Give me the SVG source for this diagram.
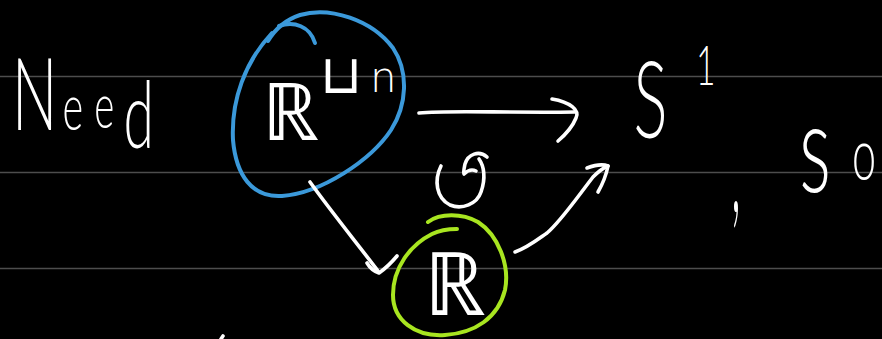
<svg xmlns="http://www.w3.org/2000/svg" width="882" height="339" viewBox="0 0 882 339">
<defs>
<style>
.rule{stroke:#4d4d4d;stroke-width:1.6}
.ink{fill:none;stroke:#ffffff;stroke-width:3.6;stroke-linecap:round;stroke-linejoin:round}
.blue{fill:none;stroke:#3b99da;stroke-width:4;stroke-linecap:round;stroke-linejoin:round}
.green{fill:none;stroke:#a8e520;stroke-width:4;stroke-linecap:round;stroke-linejoin:round}
.hand{fill:#ffffff;font-family:Lato,"Liberation Sans",sans-serif;font-weight:300}
.math{fill:#ffffff;font-family:"DejaVu Sans","Noto Sans",sans-serif;font-weight:200}
</style>
</defs>
<rect width="882" height="339" fill="#000000"/>
<g id="rules">
<line class="rule" x1="0" y1="76.5" x2="882" y2="76.5"/>
<line class="rule" x1="0" y1="172.5" x2="882" y2="172.5"/>
<line class="rule" x1="0" y1="268.5" x2="882" y2="268.5"/>
</g>
<g id="need-label">
<text class="hand" transform="scale(0.6,1)"><tspan x="20" y="130" font-size="100">N</tspan><tspan x="104" y="130" font-size="66">e</tspan><tspan x="157" y="128" font-size="64">e</tspan><tspan x="206" y="148" font-size="92">d</tspan></text>
</g>
<g id="node-Rn">
<path class="blue" d="M268,41 C274,31 285,20 300,15 C330,6 372,20 393,48 C409,72 407,105 391,130 C371,160 322,193 282,196 C252,198 236,175 233,140 C231,100 245,62 272,33"/>
<path class="blue" d="M279,26 C294,21 310,26 315,43"/>
<text class="math"><tspan x="262" y="140" font-size="80">ℝ</tspan><tspan x="320" y="93" font-size="54">⊔</tspan><tspan x="370" y="92" font-size="42">n</tspan></text>
</g>
<g id="node-S1">
<text class="hand" transform="scale(0.6,1)"><tspan x="1056" y="138" font-size="106">S</tspan><tspan x="1160" y="85" font-size="56">1</tspan></text>
</g>
<g id="node-R">
<path class="green" d="M428,222 C440,213 462,213 478,222 C498,235 510,265 505,290 C498,318 475,333 445,335 C415,337 393,320 393,295 C393,268 410,245 432,234 C440,230 450,229 457,229"/>
<text class="math" x="424" y="315" font-size="88" textLength="62" lengthAdjust="spacingAndGlyphs">ℝ</text>
<path class="ink" d="M441,166 C434,180 436,198 450,205 C462,210 477,204 481,192 C486,178 484,166 479,159"/>
<path class="ink" d="M487,157 C479,150 468,154 465,164 C464,169 463,173 464,174 C468,170 472,169 476,171"/>
</g>
<g id="so-label">
<text class="hand" transform="translate(731,212) scale(0.5,1.4)" font-size="90">,</text>
<text class="hand" transform="scale(0.6,1)"><tspan x="1332" y="192" font-size="124">s</tspan><tspan x="1420" y="180" font-size="72">o</tspan></text>
</g>
<g id="connectors">
<path class="ink" d="M419,113 C450,110 500,113 575,112"/>
<path class="ink" d="M552,99 C570,102 580,110 576,118 C572,128 565,135 558,141"/>
<path class="ink" d="M310,182 C330,210 356,242 378,271"/>
<path class="ink" d="M367,263 C370,268 373,271 379,273 C386,268 392,262 397,256"/>
<path class="ink" d="M515,252 C527,248 537,240 547,233 C560,222 573,203 593,177 C598,172 603,168 608,166"/>
<path class="ink" d="M587,168 C595,165 603,164 608,166 C606,176 602,185 598,192"/>
<path class="ink" d="M221,339 L223,336"/>
</g>
</svg>
